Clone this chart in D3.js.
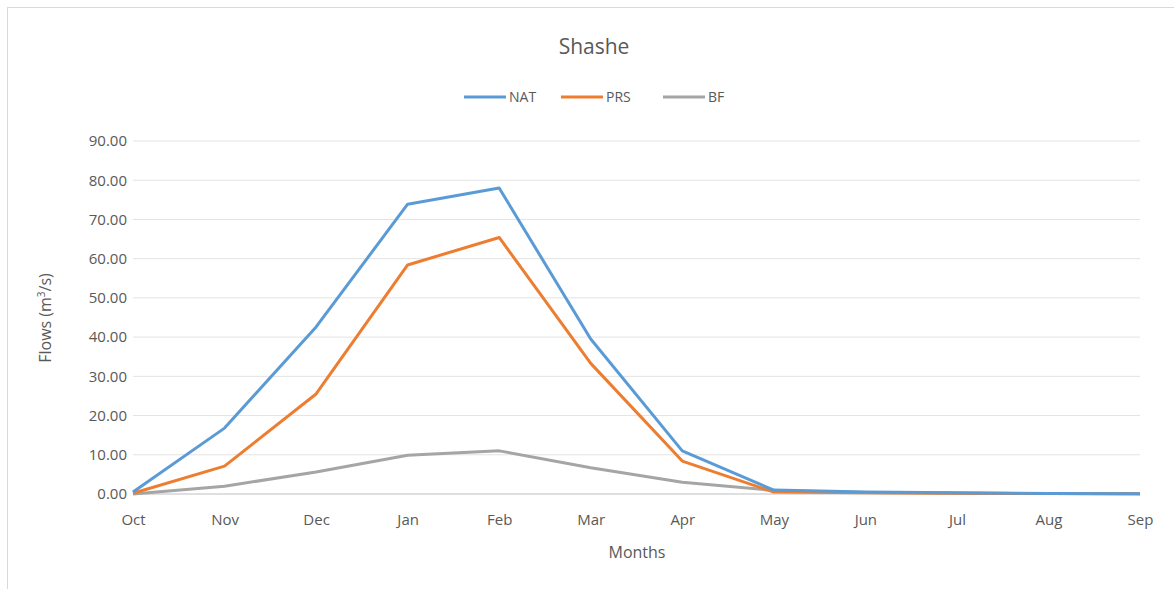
<html>
<head>
<style>
  body { margin: 0; background: #fff; }
  text { font-family: "Open Sans", "Noto Sans", sans-serif; fill: #595959; }
</style>
</head>
<body>
<svg id="chart" width="1174" height="589"></svg>
<script src="https://cdn.jsdelivr.net/npm/d3@7"></script>
<script>
// monthly flows, Shashe
let months = ["Oct", "Nov", "Dec", "Jan", "Feb", "Mar", "Apr", "May", "Jun", "Jul", "Aug", "Sep"]
let nat = [0.5, 16.8, 42.6, 73.9, 78.0, 39.5, 11.0, 1.0, 0.5, 0.3, 0.1, 0.05]
let prs = [0.2, 7.1, 25.5, 58.4, 65.4, 33.3, 8.4, 0.5, 0.3, 0.2, 0.1, 0.05]
let bf = [0.0, 2.0, 5.6, 9.9, 11.0, 6.7, 3.0, 0.9, 0.4, 0.2, 0.1, 0.05]
let yTicks = [0, 10, 20, 30, 40, 50, 60, 70, 80, 90]

let series = [
  { name: "NAT", values: nat, color: "#5B9BD5" },
  { name: "PRS", values: prs, color: "#ED7D31" },
  { name: "BF", values: bf, color: "#A5A5A5" }
]

let svg = d3.select("#chart")

// outer chart frame
svg.append("rect")
  .attr("x", 7.5).attr("y", 7.5)
  .attr("width", 1175).attr("height", 600)
  .attr("fill", "none")
  .attr("stroke", "#d9d9d9")

let x = d3.scalePoint().domain(months).range([133, 1140])
let y = d3.scaleLinear().domain([0, 90]).range([494, 141])

// gridlines
svg.append("g")
  .selectAll("line")
  .data(yTicks)
  .enter()
  .append("line")
  .attr("x1", 133).attr("x2", 1140)
  .attr("y1", d => y(d)).attr("y2", d => y(d))
  .attr("stroke", d => d == 0 ? "#bfbfbf" : "#e3e3e3")
  .attr("stroke-width", 1)

// y tick labels
let yAxis = svg.append("g")
  .attr("transform", "translate(122,0)")
  .call(d3.axisLeft(y).tickValues(yTicks).tickFormat(d3.format(".2f")).tickSize(0))
yAxis.select(".domain").remove()
yAxis.selectAll("text")
  .attr("font-size", 15)
  .attr("fill", "#595959")
  .attr("dx", 8)
  .style("font-family", "Open Sans")

// x tick labels
let xAxis = svg.append("g")
  .attr("transform", "translate(0,500)")
  .call(d3.axisBottom(x).tickSize(0))
xAxis.select(".domain").remove()
xAxis.selectAll("text")
  .attr("font-size", 15)
  .attr("fill", "#595959")
  .attr("dy", "1.45em")
  .style("font-family", "Open Sans")

// lines
let line = d3.line()
  .x((d, i) => x(months[i]))
  .y(d => y(d))

svg.append("g")
  .selectAll("path")
  .data(series.slice().reverse())
  .enter()
  .append("path")
  .attr("d", d => line(d.values))
  .attr("fill", "none")
  .attr("stroke", d => d.color)
  .attr("stroke-width", 3)
  .attr("stroke-linejoin", "round")

// title
svg.append("text")
  .attr("x", 594).attr("y", 54)
  .attr("text-anchor", "middle")
  .attr("font-size", 21)
  .text("Shashe")

// legend
let legendX = [464, 561, 663]
let legend = svg.append("g")
  .selectAll("g")
  .data(series)
  .enter()
  .append("g")
  .attr("transform", (d, i) => "translate(" + legendX[i] + ",97)")
legend.append("line")
  .attr("x1", 0).attr("x2", 42)
  .attr("stroke", d => d.color)
  .attr("stroke-width", 3)
legend.append("text")
  .attr("x", 45).attr("y", 5)
  .attr("font-size", 14)
  .text(d => d.name)

// axis titles
svg.append("text")
  .attr("x", 637).attr("y", 558)
  .attr("text-anchor", "middle")
  .attr("font-size", 16)
  .text("Months")

let yt = svg.append("text")
  .attr("transform", "translate(51,318) rotate(-90)")
  .attr("text-anchor", "middle")
  .attr("font-size", 16)
yt.append("tspan").text("Flows (m")
yt.append("tspan").attr("font-size", 10).attr("dy", -6).text("3")
yt.append("tspan").attr("dy", 6).text("/s)")
</script>
</body>
</html>
